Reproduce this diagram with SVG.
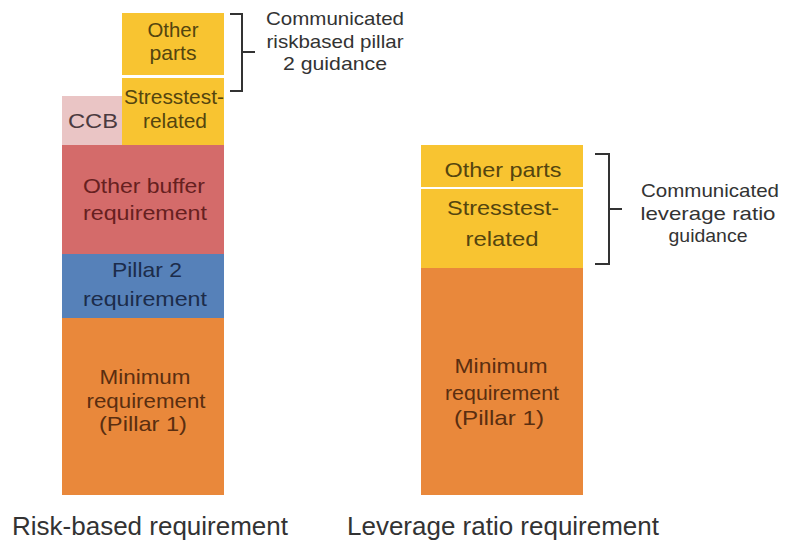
<svg xmlns="http://www.w3.org/2000/svg" width="786" height="541" viewBox="0 0 786 541">
<style>
text{font-family:"Liberation Sans",Arial,sans-serif;text-anchor:middle}
.b{font-size:21px}
.y{fill:#F8C431}.o{fill:#E9883B}.r{fill:#D46B6A}.bl{fill:#5681B9}.p{fill:#EAC5C5}
.ty{fill:#54450F}.to{fill:#5A2E10}.tr{fill:#662020}.tb{fill:#1C2C4A}.tp{fill:#4A3A40}
.lab{font-size:19px;fill:#333}
.cap{font-size:26px;fill:#333}
.br{fill:none;stroke:#333;stroke-width:2}
</style>
<rect width="786" height="541" fill="#fff"/>
<g id="left-other-parts"><rect class="y" x="122" y="13" width="102" height="62"/><text class="b ty" x="173" y="37" textLength="51" lengthAdjust="spacingAndGlyphs">Other</text><text class="b ty" x="173" y="60" textLength="47" lengthAdjust="spacingAndGlyphs">parts</text></g>
<g id="left-stresstest"><rect class="y" x="122" y="78" width="102" height="67"/><text class="b ty" x="174" y="104" textLength="100" lengthAdjust="spacingAndGlyphs">Stresstest-</text><text class="b ty" x="175" y="128" textLength="64" lengthAdjust="spacingAndGlyphs">related</text></g>
<g id="ccb"><rect class="p" x="62" y="96" width="60" height="49"/><text class="b tp" x="93" y="128" textLength="50" lengthAdjust="spacingAndGlyphs">CCB</text></g>
<g id="other-buffer"><rect class="r" x="62" y="145" width="162" height="109"/><text class="b tr" x="144" y="193" textLength="122" lengthAdjust="spacingAndGlyphs">Other buffer</text><text class="b tr" x="145" y="220" textLength="124" lengthAdjust="spacingAndGlyphs">requirement</text></g>
<g id="pillar2"><rect class="bl" x="62" y="254" width="162" height="64"/><text class="b tb" x="147" y="277" textLength="70" lengthAdjust="spacingAndGlyphs">Pillar 2</text><text class="b tb" x="145" y="306" textLength="124" lengthAdjust="spacingAndGlyphs">requirement</text></g>
<g id="left-minimum"><rect class="o" x="62" y="318" width="162" height="177"/><text class="b to" x="145" y="384" textLength="91" lengthAdjust="spacingAndGlyphs">Minimum</text><text class="b to" x="146" y="408" textLength="119" lengthAdjust="spacingAndGlyphs">requirement</text><text class="b to" x="143" y="431" textLength="88" lengthAdjust="spacingAndGlyphs">(Pillar 1)</text></g>
<g id="right-other-parts"><rect class="y" x="421" y="145" width="162" height="42"/><text class="b ty" x="503" y="177" textLength="117" lengthAdjust="spacingAndGlyphs">Other parts</text></g>
<g id="right-stresstest"><rect class="y" x="421" y="189" width="162" height="79"/><text class="b ty" x="503" y="215" textLength="112" lengthAdjust="spacingAndGlyphs">Stresstest-</text><text class="b ty" x="502" y="246" textLength="73" lengthAdjust="spacingAndGlyphs">related</text></g>
<g id="right-minimum"><rect class="o" x="421" y="268" width="162" height="227"/><text class="b to" x="501" y="373" textLength="93" lengthAdjust="spacingAndGlyphs">Minimum</text><text class="b to" x="502" y="400" textLength="114" lengthAdjust="spacingAndGlyphs">requirement</text><text class="b to" x="499" y="425" textLength="90" lengthAdjust="spacingAndGlyphs">(Pillar 1)</text></g>
<g id="connectors">
<path class="br" d="M230 14 H242 V91 H230 M242 52 H255"/>
<path class="br" d="M595 154 H609 V264 H595 M609 209 H622"/>
</g>
<g id="left-guidance"><text class="lab" x="335" y="25" textLength="138" lengthAdjust="spacingAndGlyphs">Communicated</text><text class="lab" x="335" y="48" textLength="137" lengthAdjust="spacingAndGlyphs">riskbased pillar</text><text class="lab" x="335" y="70" textLength="104" lengthAdjust="spacingAndGlyphs">2 guidance</text></g>
<g id="right-guidance"><text class="lab" x="710" y="197" textLength="138" lengthAdjust="spacingAndGlyphs">Communicated</text><text class="lab" x="708" y="220" textLength="135" lengthAdjust="spacingAndGlyphs">leverage ratio</text><text class="lab" x="708" y="242" textLength="79" lengthAdjust="spacingAndGlyphs">guidance</text></g>
<g id="captions"><text class="cap" x="150" y="535" textLength="276" lengthAdjust="spacingAndGlyphs">Risk-based requirement</text><text class="cap" x="503" y="535" textLength="312" lengthAdjust="spacingAndGlyphs">Leverage ratio requirement</text></g>
</svg>
